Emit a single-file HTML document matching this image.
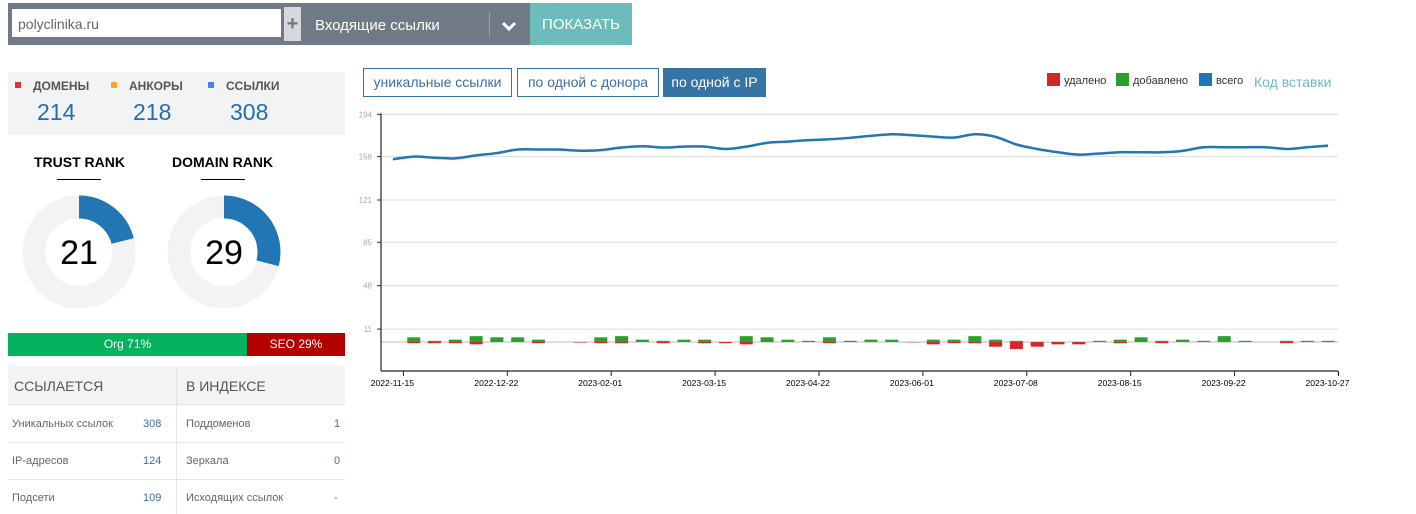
<!DOCTYPE html>
<html><head><meta charset="utf-8">
<style>
*{box-sizing:border-box;margin:0;padding:0}
body{width:1416px;height:514px;background:#fff;font-family:"Liberation Sans","DejaVu Sans",sans-serif;position:relative;overflow:hidden;color:#555}
.abs{position:absolute}
</style></head><body>
<div class="abs" style="left:8px;top:3px;width:624px;height:42px;background:#6f7a86"></div>
<div class="abs" style="left:12px;top:9px;width:269px;height:28px;background:#fff;font-size:14px;color:#666;padding:7px 6px;line-height:16px">polyclinika.ru</div>
<div class="abs" style="left:284px;top:7px;width:17px;height:34px;background:#d5d8dc;color:#777;font-size:20px;font-weight:bold;text-align:center;line-height:34px">+</div>
<div class="abs" style="left:315px;top:17px;font-size:15px;color:#fff">Входящие ссылки</div>
<div class="abs" style="left:489px;top:12px;width:1px;height:25px;background:#9aa3ac"></div>
<svg class="abs" style="left:501px;top:20px" width="16" height="12"><path d="M2 3 L8 9 L14 3" stroke="#fff" stroke-width="3" fill="none"/></svg>
<div class="abs" style="left:530px;top:3px;width:102px;height:42px;background:#6dbcbc;color:#fff;font-size:15px;text-align:center;line-height:44px">ПОКАЗАТЬ</div>

<div class="abs" style="left:8px;top:72px;width:337px;height:63px;background:#f3f3f3"></div>
<div class="abs" style="left:15px;top:79px;font-size:12px;font-weight:bold;color:#555"><span style="display:inline-block;width:6px;height:6px;background:#e53030;margin-right:12px;vertical-align:2px"></span>ДОМЕНЫ</div>
<div class="abs" style="left:111px;top:79px;font-size:12px;font-weight:bold;color:#555"><span style="display:inline-block;width:6px;height:6px;background:#f5a623;margin-right:12px;vertical-align:2px"></span>АНКОРЫ</div>
<div class="abs" style="left:208px;top:79px;font-size:12px;font-weight:bold;color:#555"><span style="display:inline-block;width:6px;height:6px;background:#4a80e8;margin-right:12px;vertical-align:2px"></span>ССЫЛКИ</div>
<div class="abs" style="left:37px;top:99px;font-size:23px;color:#1f6fb2">214</div>
<div class="abs" style="left:133px;top:99px;font-size:23px;color:#1f6fb2">218</div>
<div class="abs" style="left:230px;top:99px;font-size:23px;color:#1f6fb2">308</div>

<div class="abs" style="left:34px;top:154px;font-size:14px;font-weight:bold;color:#000">TRUST RANK</div>
<div class="abs" style="left:57px;top:179px;width:44px;height:1px;background:#000"></div>
<div class="abs" style="left:172px;top:154px;font-size:14px;font-weight:bold;color:#000">DOMAIN RANK</div>
<div class="abs" style="left:201px;top:179px;width:44px;height:1px;background:#000"></div>
<svg class="abs" style="left:0;top:190px" width="350" height="130">
 <circle cx="79" cy="62" r="45" fill="none" stroke="#f3f3f3" stroke-width="23"/>
 <circle cx="79" cy="62" r="45" fill="none" stroke="#2176b3" stroke-width="23" stroke-dasharray="59.4 400" transform="rotate(-90 79 62)"/>
 <text x="79" y="74" text-anchor="middle" font-size="34" fill="#000" font-family="Liberation Sans, sans-serif">21</text>
 <circle cx="224" cy="62" r="45" fill="none" stroke="#f3f3f3" stroke-width="23"/>
 <circle cx="224" cy="62" r="45" fill="none" stroke="#2176b3" stroke-width="23" stroke-dasharray="82 400" transform="rotate(-90 224 62)"/>
 <text x="224" y="74" text-anchor="middle" font-size="34" fill="#000" font-family="Liberation Sans, sans-serif">29</text>
</svg>

<div class="abs" style="left:8px;top:333px;width:239px;height:23px;background:#05b35f;color:#fff;font-size:12px;text-align:center;line-height:23px">Org 71%</div>
<div class="abs" style="left:247px;top:333px;width:98px;height:23px;background:#b30000;color:#fff;font-size:12px;text-align:center;line-height:23px">SEO 29%</div>

<div class="abs" style="left:8px;top:366px;width:337px;height:39px;background:#f3f3f3;border-bottom:1px solid #e5e5e5"></div>
<div class="abs" style="left:176px;top:366px;width:1px;height:148px;background:#e5e5e5"></div>
<div class="abs" style="left:14px;top:378px;font-size:14px;color:#555">ССЫЛАЕТСЯ</div>
<div class="abs" style="left:186px;top:378px;font-size:14px;color:#555">В ИНДЕКСЕ</div>
<div class="abs" style="left:8px;top:442px;width:337px;height:1px;background:#e5e5e5"></div>
<div class="abs" style="left:8px;top:479px;width:337px;height:1px;background:#e5e5e5"></div>
<div class="abs" style="left:12px;top:418px;font-size:11px;color:#666">Уникальных ссылок</div>
<div class="abs" style="left:143px;top:418px;font-size:11px;color:#3b6ea5">308</div>
<div class="abs" style="left:12px;top:455px;font-size:11px;color:#666">IP-адресов</div>
<div class="abs" style="left:143px;top:455px;font-size:11px;color:#3b6ea5">124</div>
<div class="abs" style="left:12px;top:492px;font-size:11px;color:#666">Подсети</div>
<div class="abs" style="left:143px;top:492px;font-size:11px;color:#3b6ea5">109</div>
<div class="abs" style="left:186px;top:418px;font-size:11px;color:#666">Поддоменов</div>
<div class="abs" style="left:334px;top:418px;font-size:11px;color:#3b6ea5">1</div>
<div class="abs" style="left:186px;top:455px;font-size:11px;color:#666">Зеркала</div>
<div class="abs" style="left:334px;top:455px;font-size:11px;color:#3b6ea5">0</div>
<div class="abs" style="left:186px;top:492px;font-size:11px;color:#666">Исходящих ссылок</div>
<div class="abs" style="left:334px;top:492px;font-size:11px;color:#3b6ea5">-</div>

<div class="abs" style="left:363px;top:68px;width:149px;height:29px;border:1px solid #3574a5;color:#3b6ea5;font-size:14px;text-align:center;line-height:27px">уникальные ссылки</div>
<div class="abs" style="left:517px;top:68px;width:142px;height:29px;border:1px solid #3574a5;color:#3b6ea5;font-size:14px;text-align:center;line-height:27px">по одной с донора</div>
<div class="abs" style="left:663px;top:68px;width:103px;height:29px;background:#3574a5;color:#fff;font-size:14px;text-align:center;line-height:29px">по одной с IP</div>

<div class="abs" style="left:1047px;top:73px;font-size:11px;color:#333;line-height:13px"><span style="display:inline-block;width:13px;height:13px;background:#d62728;vertical-align:-2px;margin-right:4px"></span>удалено</div>
<div class="abs" style="left:1116px;top:73px;font-size:11px;color:#333;line-height:13px"><span style="display:inline-block;width:13px;height:13px;background:#2ca02c;vertical-align:-2px;margin-right:4px"></span>добавлено</div>
<div class="abs" style="left:1199px;top:73px;font-size:11px;color:#333;line-height:13px"><span style="display:inline-block;width:13px;height:13px;background:#1f77b4;vertical-align:-2px;margin-right:4px"></span>всего</div>
<div class="abs" style="left:1254px;top:74px;font-size:14px;color:#6cb8c8">Код вставки</div>

<svg class="abs" id="chart" style="left:0;top:0" width="1416" height="514"></svg>
<script>
const totals=[155.7,158,157,156.5,159,161,164,164,164,163,163.5,165.7,166.8,165.7,166.5,166.5,164.5,166.5,169.7,170.8,172,172.8,174,175.7,177,176.2,175,174.2,177,174.8,168.3,164.5,161.7,159.7,160.6,161.7,161.7,161.7,162.9,166,166,166,166,164.5,166,167.3];
const added=[0,4,1,2,5,4,4,2,0,0,4,5,2,1,2,2,0,5,4,2,1,4,1,2,2,0,2,2,5,2,1,0,0,0,1,2,4,1,2,1,5,1,0,1,1,1];
const deleted=[0,1,1,1,2,0,0,1,0,0.5,1,1,0,1,0,1,1,2,0,0,0,1,0,0,0,0.3,2,1,1,4,6,4,2,2,0,1,0,1,0,0,0,0,0,1,0,0];
const yTicks=[194,158,121,85,48,11];
const xTickLabels=['2022-11-15','2022-12-22','2023-02-01','2023-03-15','2023-04-22','2023-06-01','2023-07-08','2023-08-15','2023-09-22','2023-10-27'];
const xTickIdx=[0.5,5.5,10.5,15.5,20.5,25.5,30.5,35.5,40.5,45.5];
const NS='http://www.w3.org/2000/svg';
const svg=document.getElementById('chart');
const x0=393,dx=20.78;
function xs(i){return x0+i*dx;}
function ys(v){return 342-v*1.1735;}
function mk(t,a){const e=document.createElementNS(NS,t);for(const k in a)e.setAttribute(k,a[k]);svg.appendChild(e);return e;}
yTicks.forEach(v=>{
 const g=mk('line',{x1:381,x2:1338,y1:ys(v),y2:ys(v),stroke:'#ddd','stroke-width':1});
 
 
 const t=mk('text',{x:372,y:ys(v)+3,'text-anchor':'end','font-size':8,fill:'#aaa'});t.textContent=v;
 
 
 mk('line',{x1:377,x2:381,y1:ys(v),y2:ys(v),stroke:'#333'});
});
const base=mk('line',{x1:381,x2:1338,y1:ys(0),y2:ys(0),stroke:'#bbb','stroke-width':1});


const ax=mk('line',{x1:381,x2:381,y1:ys(194)-1,y2:371,stroke:'#222','stroke-width':1.2});


const xa=mk('line',{x1:381,x2:1338,y1:371,y2:371,stroke:'#222','stroke-width':1.2});


xTickIdx.forEach((ix,k)=>{
 const x=xs(ix);
 mk('line',{x1:x,x2:x,y1:371,y2:376,stroke:'#222'});
 const t=mk('text',{x:x-11,y:386,'text-anchor':'middle','font-size':8.6,fill:'#000'});t.textContent=xTickLabels[k];
 
 
});
added.forEach((v,i)=>{
 if(v<=0)return;
 const r=mk('rect',{x:xs(i)-6.5,y:ys(v),width:13,height:ys(0)-ys(v),fill:'#2ca02c'});
 
 
});
deleted.forEach((v,i)=>{
 if(v<=0)return;
 const r=mk('rect',{x:xs(i)-6.5,y:ys(0),width:13,height:ys(-v)-ys(0),fill:'#d62728'});
 
 
});
let d='M'+xs(0)+','+ys(totals[0]);
for(let i=0;i<totals.length-1;i++){
 const p0=[xs(Math.max(i-1,0)),ys(totals[Math.max(i-1,0)])],p1=[xs(i),ys(totals[i])],p2=[xs(i+1),ys(totals[i+1])],p3=[xs(Math.min(i+2,totals.length-1)),ys(totals[Math.min(i+2,totals.length-1)])];
 const c1=[p1[0]+(p2[0]-p0[0])/6,p1[1]+(p2[1]-p0[1])/6],c2=[p2[0]-(p3[0]-p1[0])/6,p2[1]-(p3[1]-p1[1])/6];
 d+=' C'+c1+' '+c2+' '+p2;
}
const ln=mk('path',{d:d,fill:'none',stroke:'#1f77b4','stroke-width':2.5});


</script>
</body></html>
